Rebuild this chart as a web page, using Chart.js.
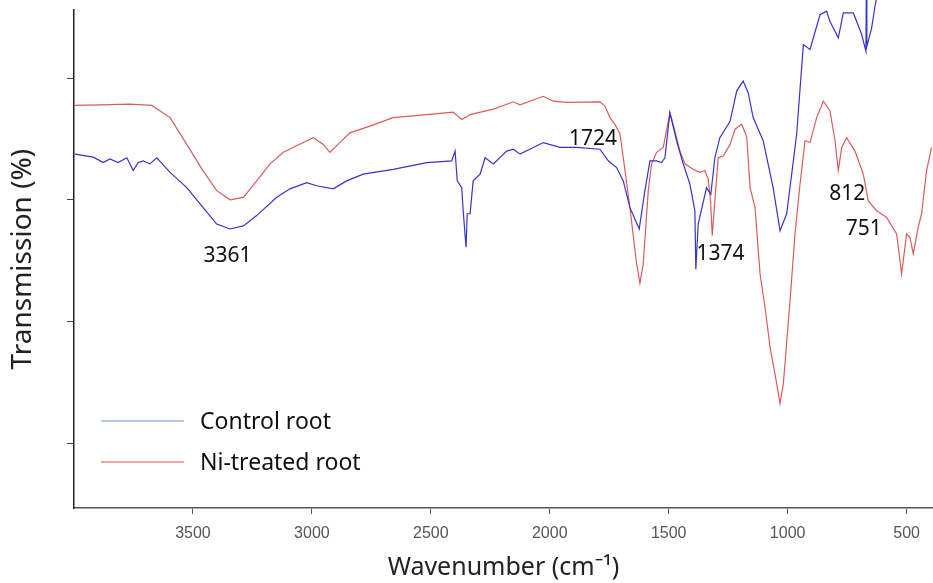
<!DOCTYPE html>
<html>
<head>
<meta charset="utf-8">
<script src="https://cdn.jsdelivr.net/npm/chart.js@4"></script>
<style>
  html, body { margin: 0; padding: 0; background: #fff; }
  #wrap { width: 933px; height: 583px; position: relative; }
</style>
</head>
<body>
<div id="wrap"><canvas id="ftir"></canvas></div>
<script>
// FTIR spectra, wavenumber (cm-1) vs transmission (arbitrary %)
const seriesNames = ["Control root", "Ni-treated root"];

const ctrlWn = [3996, 3919, 3877, 3849, 3815, 3778, 3751, 3731, 3709, 3681, 3652, 3596, 3526, 3457, 3400, 3344,
  3288, 3232, 3148, 3092, 3022, 2980, 2910, 2854, 2784, 2658, 2517, 2412, 2398, 2389, 2370, 2364, 2352, 2347,
  2335, 2322, 2293, 2272, 2237, 2181, 2153, 2125, 2027, 1957, 1887, 1789, 1754, 1719, 1691, 1663, 1624, 1600,
  1579, 1551, 1530, 1516, 1495, 1467, 1439, 1411, 1390, 1386, 1376, 1341, 1323, 1306, 1285, 1242, 1214, 1187,
  1166, 1145, 1103, 1061, 1032, 1004, 962, 934, 906, 864, 836, 822, 787, 766, 724, 689, 671, 669, 667, 647, 633, 620];
const ctrlT = [57.5, 57.0, 56.1, 56.7, 56.1, 56.9, 54.8, 56.1, 56.4, 55.9, 56.9, 54.5, 52.0, 48.7, 46.0, 45.2,
  45.7, 47.4, 50.4, 51.8, 52.8, 52.3, 51.8, 53.1, 54.2, 55.0, 56.1, 56.4, 58.0, 53.1, 52.0, 48.2, 42.2, 47.7,
  47.7, 53.1, 54.2, 56.9, 55.9, 58.0, 58.3, 57.5, 59.4, 58.6, 58.6, 58.3, 56.4, 55.3, 53.1, 48.7, 45.2, 51.5,
  56.4, 56.4, 56.1, 56.9, 64.3, 59.7, 55.9, 52.6, 48.2, 38.6, 46.0, 52.0, 50.9, 56.9, 60.2, 62.9, 67.9, 69.5,
  67.6, 63.5, 59.7, 52.0, 44.9, 47.7, 60.8, 75.5, 74.7, 80.4, 81.0, 79.3, 76.6, 80.7, 80.7, 77.2, 74.4, 86.0, 75.2, 78.2, 81.8, 84.3];

const niWn = [4000, 3891, 3765, 3673, 3596, 3526, 3458, 3400, 3344, 3288, 3232, 3176, 3120, 3036, 2994, 2952,
  2924, 2896, 2840, 2756, 2659, 2517, 2407, 2370, 2335, 2237, 2153, 2125, 2027, 1985, 1929, 1789, 1768, 1747,
  1726, 1705, 1691, 1663, 1635, 1621, 1607, 1586, 1572, 1551, 1523, 1495, 1474, 1453, 1432, 1397, 1369, 1348,
  1334, 1324, 1317, 1306, 1292, 1271, 1242, 1221, 1193, 1172, 1158, 1137, 1116, 1095, 1074, 1046, 1032, 1018,
  990, 969, 948, 927, 906, 878, 850, 822, 801, 787, 773, 752, 717, 682, 661, 626, 584, 542, 521, 500, 486, 472,
  451, 437, 416, 395];
const niT = [65.5, 65.6, 65.7, 65.5, 63.5, 59.1, 54.8, 51.5, 50.0, 50.4, 53.1, 55.9, 57.8, 59.4, 60.2, 59.1,
  57.8, 58.9, 61.0, 62.1, 63.5, 64.0, 64.4, 63.2, 64.0, 64.9, 66.1, 65.6, 67.0, 66.2, 66.0, 66.1, 65.4, 63.5,
  62.4, 60.8, 56.9, 48.7, 39.5, 36.3, 39.5, 51.5, 55.9, 57.8, 58.6, 64.3, 61.3, 58.0, 55.9, 55.0, 54.5, 54.8,
  53.4, 49.8, 44.1, 49.8, 56.9, 57.2, 59.1, 61.6, 62.4, 60.3, 52.0, 48.7, 37.8, 32.3, 25.8, 19.8, 16.5, 19.8,
  33.4, 44.4, 52.6, 59.7, 59.4, 63.5, 66.2, 64.6, 59.7, 54.8, 58.6, 60.2, 58.0, 54.2, 49.8, 48.2, 47.1, 44.4,
  37.8, 44.4, 43.8, 41.1, 45.5, 47.7, 54.8, 58.6];

// peak labels written on the plot (wavenumber, transmission at text centre)
const peakText = ["3361", "1724", "1374", "812", "751"];
const peakWn = [3355, 1818, 1282, 749, 680];
const peakT = [41.0, 60.2, 41.3, 51.2, 45.5];

const xTicks = [3500, 3000, 2500, 2000, 1500, 1000, 500];
const yTicks = [10, 30, 50, 70];

const lineColors = ["#3535c8", "#d95c5c"];
const legendColors = ["#a3b4e6", "#f08585"];

function pairs(xs, ys) {
  return xs.map((x, i) => ({ x: x, y: ys[i] }));
}

const overlay = {
  id: "overlay",
  afterDatasetsDraw(chart) {
    const ctx = chart.ctx;
    const xs = chart.scales.x, ys = chart.scales.y;
    ctx.save();
    // peak numbers
    ctx.font = "21px 'Noto Sans'";
    ctx.fillStyle = "#111";
    ctx.textAlign = "center";
    ctx.textBaseline = "alphabetic";
    peakText.forEach((t, i) => {
      ctx.fillText(t, xs.getPixelForValue(peakWn[i]), ys.getPixelForValue(peakT[i]) + 7.5);
    });
    // legend
    const rowY = [421, 462];
    ctx.font = "23px 'Noto Sans'";
    ctx.textAlign = "left";
    chart.data.datasets.forEach((ds, i) => {
      ctx.strokeStyle = legendColors[i];
      ctx.lineWidth = 1.5;
      ctx.beginPath();
      ctx.moveTo(101, rowY[i]);
      ctx.lineTo(184, rowY[i]);
      ctx.stroke();
      ctx.fillStyle = "#111";
      ctx.fillText(ds.label, 200, rowY[i] + 8);
    });
    ctx.restore();
  }
};

new Chart(document.getElementById("ftir"), {
  type: "line",
  data: {
    datasets: [
      {
        label: seriesNames[0],
        data: pairs(ctrlWn, ctrlT),
        borderColor: lineColors[0],
        borderWidth: 1.2,
        pointRadius: 0,
        tension: 0,
        clip: false,
      },
      {
        label: seriesNames[1],
        data: pairs(niWn, niT),
        borderColor: lineColors[1],
        borderWidth: 1.2,
        pointRadius: 0,
        tension: 0,
        clip: false,
      },
    ],
  },
  options: {
    responsive: true,
    maintainAspectRatio: false,
    animation: false,
    devicePixelRatio: 1,
    layout: { padding: { top: 9, right: 0, left: 0, bottom: 0 } },
    plugins: { legend: { display: false }, tooltip: { enabled: false } },
    scales: {
      x: {
        type: "linear",
        reverse: true,
        min: 389,
        max: 4000,
        afterBuildTicks: (s) => { s.ticks = xTicks.map((v) => ({ value: v })); },
        afterFit: (s) => { s.height = 75; },
        grid: { drawOnChartArea: false, tickLength: 6, color: "#555" },
        border: { color: "#555", width: 1.5 },
        ticks: {
          font: { family: "'Liberation Sans'", size: 16 },
          color: "#555",
          padding: 10,
          maxRotation: 0,
          callback: (v) => String(v),
        },
        title: {
          display: true,
          text: "Wavenumber (cm⁻¹)",
          font: { family: "'Noto Sans'", size: 25 },
          color: "#222",
          padding: { top: 0, bottom: 0 },
        },
      },
      y: {
        min: -0.65,
        max: 81.15,
        afterBuildTicks: (s) => { s.ticks = yTicks.map((v) => ({ value: v })); },
        afterFit: (s) => { s.width = 74; },
        grid: { drawOnChartArea: false, tickLength: 7, color: "#444" },
        border: { color: "#222", width: 1.5 },
        ticks: { callback: () => "" },
        title: {
          display: true,
          text: "Transmission (%)",
          font: { family: "'Noto Sans'", size: 28 },
          color: "#222",
          padding: { top: 6, bottom: 0 },
        },
      },
    },
  },
  plugins: [overlay],
});
</script>
</body>
</html>
